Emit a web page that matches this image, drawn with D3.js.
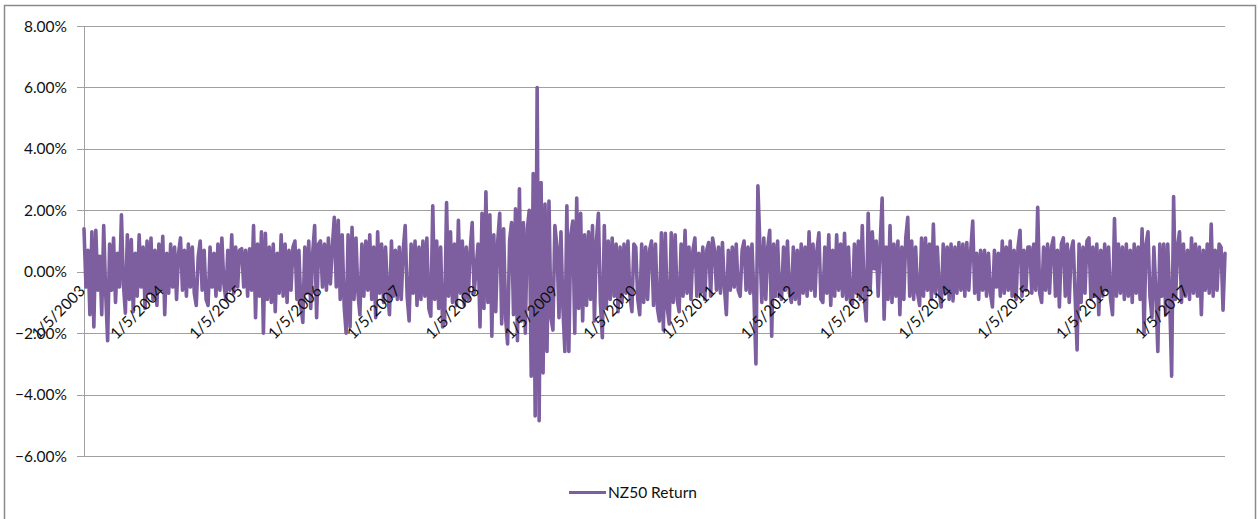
<!DOCTYPE html>
<html><head><meta charset="utf-8">
<script src="https://cdn.jsdelivr.net/npm/d3@7"></script>
<style>
html,body{margin:0;padding:0;background:#fff;}
svg{display:block;font-family:Lato,"Open Sans","DejaVu Sans",sans-serif;}
</style>
</head><body>
<svg id="chart" width="1258" height="519"></svg>
<script>
// ---- data (daily returns, %) ----
const seriesName = "NZ50 Return";
const yTicks = [-6, -4, -2, 0, 2, 4, 6, 8];
const tickYears = [2003, 2004, 2005, 2006, 2007, 2008, 2009, 2010, 2011, 2012, 2013, 2014, 2015, 2016, 2017];

const r2003 = [1.4, -0.5, 0.7, -1.4, 1.3, -1.8, 1.35, -0.6, 0.5, -1.4, 1.5, -0.7, -2.25, 0.9, -0.6, 1.1, -1.0, 0.6, -0.5, 1.85, -0.4, -1.35, 1.2, -0.9, 1.05, -1.3, 0.6, -0.8, 1.2, -0.5, 0.8, -1.2, 1.0, -0.7, 1.1, -0.9, 0.7, -1.1, 0.9, -0.6];
const r2004 = [1.15, -1.4, 0.6, -0.7, 0.9, -0.5, 0.8, -0.9, 0.6, 1.1, -0.6, 0.7, -0.8, 0.9, -0.5, 0.8, -0.7, -1.1, 0.5, 1.0, -0.6, 0.7, -0.9, -1.1, 0.8, -0.5, 0.6, -0.8, 0.9, -0.6, 1.1, -0.4, -0.9, 0.7, -0.6, 1.2, -0.7, 0.8, -0.5, 0.7];
const r2005 = [0.75, -0.5, 0.7, -0.8, 0.75, -0.6, 1.5, -1.5, 0.9, -0.8, 1.3, -2.0, 1.25, -0.9, 0.8, -1.0, 0.9, -1.3, 0.6, -0.7, 1.2, -0.8, 0.9, -1.0, 0.7, -0.6, 0.8, 1.0, -0.9, 0.7, -1.1, -1.65, 0.8, -0.7, 1.0, -1.2, 0.6, 1.5, -1.5, 0.9];
const r2006 = [1.0, -0.5, 0.9, -0.6, 1.1, -0.4, 0.8, 1.77, -0.5, 1.67, -0.9, 1.2, -1.1, -2.0, 1.2, -1.8, 1.45, -0.9, 1.1, -0.7, -1.4, 0.9, -0.8, 1.0, -0.6, 1.2, -0.9, 0.8, -1.5, 1.3, -0.7, 0.9, -1.0, 0.8, -0.6, -1.4, 1.0, -0.8, 0.7, -0.9];
const r2007 = [0.8, -0.9, 0.7, 1.5, -0.8, -1.6, 0.9, -0.7, 1.0, -1.1, 0.8, -0.9, 1.0, -0.8, 1.1, -1.2, -1.45, 2.15, -0.9, 1.0, -1.2, 0.8, -1.8, -1.6, 2.25, -0.8, 1.3, -1.0, 0.9, -1.1, 1.67, -0.7, 1.0, -1.1, 0.8, -0.9, 0.7, 1.6, -0.7, 0.1];
const r2008 = [0.9, -1.8, 1.9, -1.2, 2.6, -1.0, 1.85, -2.1, 1.2, -1.3, 1.0, 1.9, -1.7, 1.4, -1.5, -2.35, 1.0, 1.6, -1.4, 2.05, -2.25, 2.7, -1.6, 1.6, -2.0, 1.4, 2.0, -3.4, 3.2, -4.7, 6.0, -4.85, 2.9, -3.3, 2.2, -2.6, 2.3, -1.5, -1.9, 1.5];
const r2009 = [0.8, -1.5, 1.3, -1.2, -2.6, 2.15, -2.6, 1.2, 1.65, -2.0, 2.4, -1.2, 1.9, -1.6, 1.2, -1.1, 1.3, -0.9, 1.5, -1.6, 1.0, 1.9, -1.0, -2.15, 1.5, -1.2, 1.0, -0.9, 1.1, -0.8, 0.9, -1.3, 0.8, -1.0, 0.9, -0.7, 1.0, -0.8, -1.3, 0.9];
const r2010 = [0.8, -0.9, -1.4, 0.9, -1.0, 0.8, -0.9, 0.7, 1.0, -1.1, 0.9, -1.2, -1.6, 1.27, -1.9, 1.25, -1.2, -1.7, 1.27, -1.0, 1.2, -0.9, -1.3, 0.9, -0.8, 1.35, -0.7, 0.8, -0.9, 0.7, 1.1, -0.8, 0.6, -0.7, 0.8, -0.9, 0.7, 0.95, -0.8, 1.1];
const r2011 = [0.7, -0.6, 0.8, -0.7, 0.95, -0.5, -1.4, 0.7, -0.6, 0.8, -0.5, 0.9, -0.6, -0.8, 0.7, 1.0, -0.6, 0.8, -0.7, 0.9, -0.8, -3.0, 2.8, 0.9, -1.0, 1.1, -0.9, 0.8, 1.35, -2.1, 0.9, -0.8, 1.0, -0.7, -0.9, 0.8, -0.6, 1.0, -0.7, -1.0];
const r2012 = [0.8, -0.9, 0.7, -1.05, 0.9, -0.7, 0.8, -0.8, 1.3, -0.6, 0.9, -0.8, 0.7, 1.27, -0.9, -1.0, 0.8, -0.7, 1.2, -1.1, 0.7, -0.8, 1.2, -0.6, 0.9, -0.8, 1.25, -0.9, 0.8, -1.0, -1.05, 0.9, -0.7, 1.0, -0.9, 1.5, -0.8, -1.6, 1.9, -0.6];
const r2013 = [1.3, 0.1, 1.0, -0.8, 0.9, 2.4, -1.55, 0.8, -0.9, 1.5, -1.0, 0.9, -0.8, 1.0, -1.4, 0.8, -0.9, 1.1, 1.77, -0.8, 1.0, -0.9, 0.8, -0.7, -1.1, 1.1, -0.8, 1.1, -0.6, 0.9, -0.9, 1.55, -0.7, 0.8, -0.6, -1.15, 0.9, -0.7, 0.8, -0.9];
const r2014 = [0.9, -0.95, 0.8, -0.7, 0.95, -0.6, 0.9, -0.8, 0.95, -0.6, 0.7, 1.65, -0.7, 0.6, -0.9, 0.7, -0.6, 0.7, -0.8, 0.6, -0.7, -1.15, 0.7, -0.5, 0.6, -0.8, 1.0, -0.7, 0.8, -0.6, 1.0, -0.8, 0.7, -0.9, 0.8, 1.35, -0.8, 0.7, -0.6, 0.8];
const r2015 = [0.8, -0.7, 0.9, -0.6, 2.1, -0.7, -1.0, 0.8, -0.6, 0.9, -0.7, 0.8, 1.1, -0.8, 0.7, -1.15, 0.9, 1.1, -0.8, 0.9, -1.0, 0.7, 1.0, -0.8, -2.55, 0.9, -1.0, 0.8, -0.7, 1.0, 1.1, -0.9, 0.8, -0.8, 0.9, -1.4, 0.7, -0.8, 0.9, -0.6];
const r2016 = [0.8, -0.9, -1.4, 1.73, -0.8, 0.9, -0.7, 0.8, -0.9, 0.9, -0.8, 0.7, -1.0, 0.9, -0.7, 0.8, -0.9, 1.4, -2.0, 0.9, 1.3, -0.8, -1.5, 0.8, -0.7, -2.6, 0.9, -0.8, 0.9, -1.4, 0.9, -0.8, -3.4, 2.45, -0.9, 0.8, 1.3, -1.0, 0.9, -0.8];
const r2017 = [0.7, -0.9, 1.1, -0.7, 0.9, -0.8, 0.8, -1.4, 0.7, -0.6, 0.9, -0.7, 1.55, -0.8, 0.7, -0.6, 0.9, 0.8, -1.25, 0.6];

const yearly = [
  [2003, r2003], [2004, r2004], [2005, r2005], [2006, r2006], [2007, r2007],
  [2008, r2008], [2009, r2009], [2010, r2010], [2011, r2011], [2012, r2012],
  [2013, r2013], [2014, r2014], [2015, r2015], [2016, r2016], [2017, r2017]
];
const samplesPerYear = 40;

// ---- build points (each year's values spread over that year) ----
const DAY = 864e5;
const points = [];
yearly.forEach(([yr, vals]) => {
  const t0 = new Date(yr, 0, 5).getTime();
  vals.forEach((v, i) => points.push({ date: new Date(t0 + i * (365.25 / samplesPerYear) * DAY), value: v }));
});

// ---- layout ----
const svg = d3.select("#chart");
const W = 1258, H = 519;
const plot = { left: 84, right: 1225, top: 26, bottom: 456 };
const lineColor = "#7D5FA0";
const gridColor = "#a0a0a0";

const x = d3.scaleTime()
  .domain([new Date(2003, 0, 5), points[points.length - 1].date])
  .range([plot.left, plot.right]);
const y = d3.scaleLinear().domain([-6, 8]).range([plot.bottom, plot.top]);

svg.append("rect").attr("width", W).attr("height", H).attr("fill", "#fff");

// outer chart border
svg.append("rect")
  .attr("x", 4.5).attr("y", 5.5).attr("width", 1251).attr("height", 540)
  .attr("fill", "none").attr("stroke", "#8a8a8a").attr("stroke-width", 1.5);

// gridlines + y tick marks
svg.append("g").selectAll("line").data(yTicks).join("line")
  .attr("x1", plot.left - 7).attr("x2", plot.right)
  .attr("y1", d => Math.round(y(d)) + 0.5).attr("y2", d => Math.round(y(d)) + 0.5)
  .attr("stroke", gridColor).attr("stroke-width", 1);

// vertical axis line
svg.append("line")
  .attr("x1", plot.left + 0.5).attr("x2", plot.left + 0.5)
  .attr("y1", plot.top).attr("y2", plot.bottom)
  .attr("stroke", gridColor).attr("stroke-width", 1);

// y labels
svg.append("g").selectAll("text").data(yTicks).join("text")
  .attr("x", 67).attr("y", d => y(d)).attr("dy", "0.36em")
  .attr("text-anchor", "end").attr("font-size", 15.5).attr("fill", "#111")
  .text(d => d3.format(".2f")(d) + "%");

// series line
const line = d3.line().x(d => x(d.date)).y(d => y(d.value));
svg.append("path").datum(points)
  .attr("d", line).attr("fill", "none")
  .attr("stroke", lineColor).attr("stroke-width", 3.6)
  .attr("stroke-linejoin", "round").attr("stroke-linecap", "round");

// x labels (rotated)
svg.append("g").selectAll("text").data(tickYears).join("text")
  .attr("transform", d => `translate(${x(new Date(d, 0, 5)) + 2},292) rotate(-45)`)
  .attr("text-anchor", "end").attr("font-size", 15.5).attr("fill", "#111")
  .text(d => `1/5/${d}`);

// legend
svg.append("line").attr("x1", 569).attr("x2", 606).attr("y1", 492.5).attr("y2", 492.5)
  .attr("stroke", lineColor).attr("stroke-width", 3);
svg.append("text").attr("x", 608).attr("y", 498).attr("font-size", 15.5).attr("fill", "#111")
  .text(seriesName);
</script>
</body></html>
